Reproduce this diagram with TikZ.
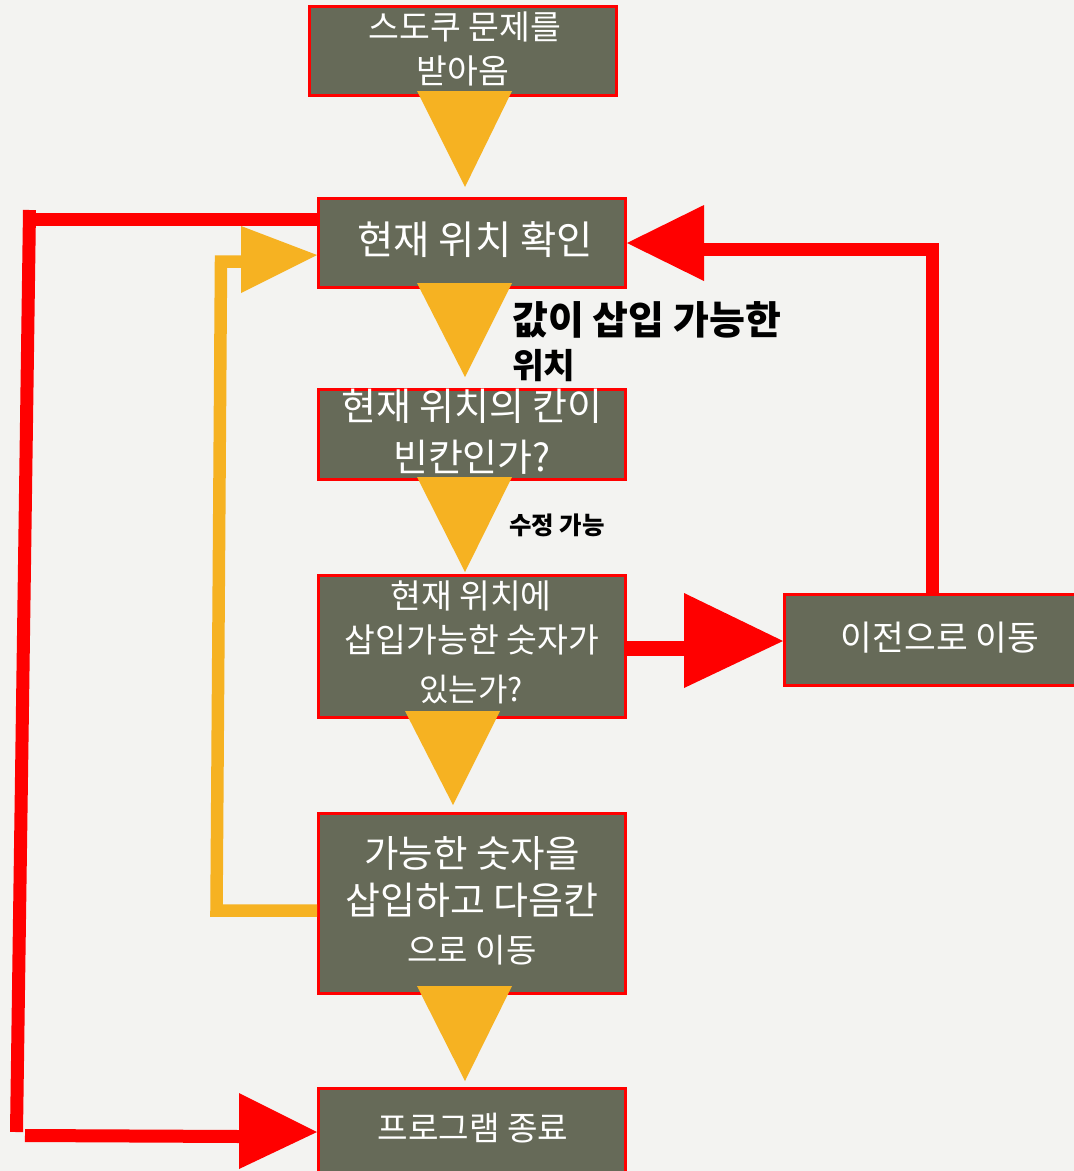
\documentclass[tikz,border=0pt]{standalone}
\usepackage{fontspec}
\newfontfamily\kr{Noto Sans CJK KR}
\definecolor{bg}{RGB}{243,243,241}
\definecolor{boxfill}{RGB}{102,106,88}
\definecolor{redc}{RGB}{255,0,0}
\definecolor{orangec}{RGB}{246,178,34}
\begin{document}
\begin{tikzpicture}[x=1pt,y=-1pt,
  box/.style={draw=redc, line width=3pt, fill=boxfill, minimum width=307pt, inner sep=0pt},
  btxt/.style={text=white, inner sep=0pt, font=\kr\fontsize{#1}{#1}\selectfont},
  ltxt/.style={text=black, inner sep=0pt, anchor=west, font=\kr\bfseries\fontsize{#1}{#1}\selectfont},
  redline/.style={draw=redc, line width=13pt, line cap=butt, line join=miter},
  orline/.style={draw=orangec, line width=12.5pt, line cap=butt, line join=miter},
  tri/.style={fill=orangec},
  rtri/.style={fill=redc}]
\useasboundingbox (0,0) rectangle (1074,1171);
\fill[bg] (0,0) rectangle (1074,1171);

% boxes
\node[box, minimum height=89pt] (A) at (463,51) {};
\node[box, minimum height=89pt] (B) at (472,243) {};
\node[box, minimum height=90pt] (C) at (472,434.5) {};
\node[box, minimum height=142pt] (D) at (472,646.5) {};
\node[box, minimum height=91pt] (E) at (938,640) {};
\node[box, minimum height=180pt] (F) at (472,903.5) {};
\node[box, minimum height=89pt] (G) at (472,1133) {};

% box texts
\node[btxt=33.5] (a1) at (465,27) {스도쿠 문제를};
\node[btxt=33.5] (a2) at (463,71) {받아옴};
\node[btxt=39.5] (b1) at (475,240) {현재 위치 확인};
\node[btxt=38] (c1) at (472,406) {현재 위치의 칸이};
\node[btxt=38] (c2) at (472,457) {빈칸인가?};
\node[btxt=33.5] (d1) at (471,596) {현재 위치에};
\node[btxt=33.5] (d2) at (472,640) {삽입가능한 숫자가};
\node[btxt=32] (d3) at (471,689) {있는가?};
\node[btxt=34.5] (e1) at (940,638) {이전으로 이동};
\node[btxt=37.5] (f1) at (472,853) {가능한 숫자을};
\node[btxt=38] (f2) at (472,900) {삽입하고 다음칸};
\node[btxt=33] (f3) at (472,950) {으로 이동};
\node[btxt=33.2] (g1) at (473,1128) {프로그램 종료};

% labels
\node[ltxt=39] (l1) at (512,320) {값이 삽입 가능한};
\node[ltxt=34.5] (l2) at (512,366) {위치};
\node[ltxt=24.4] (l3) at (509,525) {수정 가능};

% connector coordinates
\coordinate (rtop) at (29.5,219.3);
\coordinate (rbot) at (16.5,1132);
\coordinate (rin) at (240,1136.5);
\coordinate (ecorner) at (932.5,249.5);
\coordinate (ein) at (704,249.5);
\coordinate (dout) at (684,648.5);
\coordinate (oc1) at (216.5,910.5);
\coordinate (oc2) at (221,261.5);
\coordinate (oin) at (241,261.5);

% red: B -> G (left loop)
\draw[redline] (B.west |- rtop) -- (36,219.3);
\draw[redline] (29.5,210) -- (rbot);
\draw[redline] (25,1135.5) -- (rin);
\fill[rtri] (239,1093) -- (239,1169) -- (G.west |- 0,1132) -- cycle;

% red: D -> E
\draw[redline, line width=15pt] (D.east |- dout) -- (dout);
\fill[rtri] (684,593) -- (684,688) -- (E.west |- 0,641) -- cycle;

% red: E -> B
\draw[redline] (E.north -| ecorner) -- (ecorner) -- (ein);
\fill[rtri] (704,205) -- (704,281) -- (B.east |- 0,243) -- cycle;

% orange: F -> B (left loop)
\draw[orline] (F.west |- oc1) -- (oc1) -- (oc2) -- (oin);
\fill[tri] (241,226) -- (241,293) -- (B.west |- 0,255) -- cycle;

% orange down arrows
\fill[tri] (417,91) -- (512,91) -- (465,187) -- cycle;
\fill[tri] (417,283) -- (512,283) -- (465,377) -- cycle;
\fill[tri] (417,477) -- (512,477) -- (465,572) -- cycle;
\fill[tri] (405,711) -- (500,711) -- (453,805) -- cycle;
\fill[tri] (417,986) -- (512,986) -- (465,1081) -- cycle;
\end{tikzpicture}
\end{document}
